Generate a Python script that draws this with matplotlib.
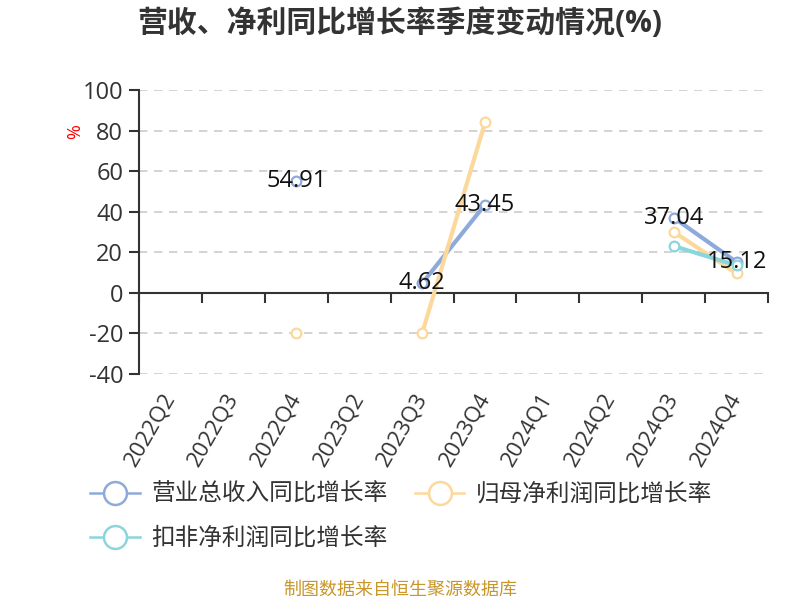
import numpy as np
import matplotlib
matplotlib.use('Agg')
import matplotlib.pyplot as plt
from matplotlib.lines import Line2D

plt.rcParams['font.family'] = ['Open Sans', 'Noto Sans CJK SC', 'DejaVu Sans']
plt.rcParams['axes.unicode_minus'] = False

# 분기 및 시리즈 값 (nan = 데이터 없음)
quarters = ['2022Q2', '2022Q3', '2022Q4', '2023Q2', '2023Q3',
            '2023Q4', '2024Q1', '2024Q2', '2024Q3', '2024Q4']
revenue_growth = [np.nan, np.nan, 54.91, np.nan, 4.62, 43.45, np.nan, np.nan, 37.04, 15.12]
parent_profit_growth = [np.nan, np.nan, -20, np.nan, -20, 84, np.nan, np.nan, 30, 9.5]
deducted_profit_growth = [np.nan, np.nan, np.nan, np.nan, np.nan, np.nan, np.nan, np.nan, 23, 13.5]

series_names = ['营业总收入同比增长率', '归母净利润同比增长率', '扣非净利润同比增长率']
colors = ['#8eaadb', '#fdd89b', '#8ad6dc']
y_ticks = [-40, -20, 0, 20, 40, 60, 80, 100]

fig = plt.figure(figsize=(8, 6), dpi=100)
ax = fig.add_axes([0.174, 0.377, 0.786, 0.473])

x = np.arange(len(quarters))
all_series = [revenue_growth, parent_profit_growth, deducted_profit_growth]
for i, (vals, c) in enumerate(zip(all_series, colors)):
    ax.plot(x, vals, color=c, lw=3, marker='o', ms=7, mfc='white', mec=c, mew=1.6,
            zorder=3 + i, solid_capstyle='round')

# 매출 시리즈에만 값 라벨
for xi, v in zip(x, revenue_growth):
    if not np.isnan(v):
        ax.text(xi, v, f'{v:.2f}', ha='center', va='center', fontsize=17,
                color='#111111', zorder=10)

ax.set_xlim(-0.5, len(quarters) - 0.5)
ax.set_ylim(-40, 100)
ax.set_yticks(y_ticks)
ax.set_yticklabels([str(t) for t in y_ticks], fontsize=17, color='#333333')
ax.yaxis.grid(True, linestyle=(0, (5, 4)), color='#cccccc', lw=1.2)
ax.set_axisbelow(True)

for s in ['top', 'right']:
    ax.spines[s].set_visible(False)
ax.spines['left'].set_color('#333333')
ax.spines['left'].set_linewidth(1.5)
ax.spines['bottom'].set_position(('data', 0))
ax.spines['bottom'].set_color('#333333')
ax.spines['bottom'].set_linewidth(1.5)
ax.tick_params(axis='y', length=7.5, width=1.5, color='#333333', pad=4)

# 경계 눈금은 0 위치 축에, 라벨은 아래쪽에
ax.set_xticks(np.arange(len(quarters) + 1) - 0.5)
ax.tick_params(axis='x', length=7, width=1.5, color='#333333', labelbottom=False)

sec = ax.secondary_xaxis(0)
sec.set_xticks(x)
sec.set_xticklabels(quarters, rotation=60, ha='right', va='center',
                    rotation_mode='anchor', fontsize=16, color='#333333')
sec.tick_params(length=0, pad=15)
sec.spines['bottom'].set_visible(False)

ax.set_ylabel('%', color='red', fontsize=13)
ax.yaxis.set_label_coords(-0.088, 0.852)

fig.text(0.5, 0.960, '营收、净利同比增长率季度变动情况(%)', ha='center', va='center',
         fontsize=21.5, fontweight='bold', color='#333333')

handles = [Line2D([], [], color=c, lw=1.8, marker='o', ms=16.5, mfc='white', mec=c, mew=1.8)
           for c in colors]
order = [0, 2, 1]
fig.legend([handles[i] for i in order], [series_names[i] for i in order],
           ncol=2, loc='upper left', bbox_to_anchor=(0.1125, 0.195), frameon=False,
           fontsize=17, handlelength=2.1, handletextpad=0.5, columnspacing=1.15,
           labelspacing=0.85, labelcolor='#333333', borderpad=0, borderaxespad=0)

fig.text(0.5, 0.017, '制图数据来自恒生聚源数据库', ha='center', va='center',
         fontsize=13, color='#c8962a')

fig.savefig('out.png', dpi=100)
